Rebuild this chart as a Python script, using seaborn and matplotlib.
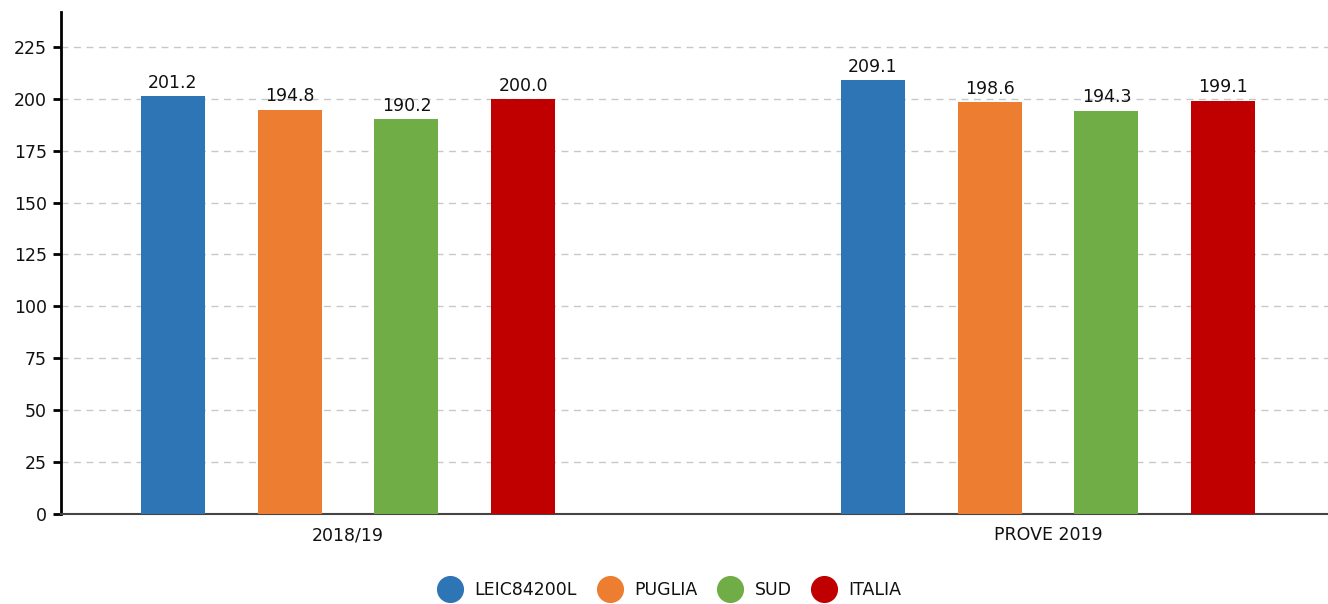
import matplotlib
matplotlib.use("Agg")
import matplotlib.pyplot as plt
import seaborn as sns
import pandas as pd
from matplotlib.lines import Line2D

categories = ["2018/19", "PROVE 2019"]
series = ["LEIC84200L", "PUGLIA", "SUD", "ITALIA"]
values_2018 = [201.2, 194.8, 190.2, 200.0]
values_2019 = [209.1, 198.6, 194.3, 199.1]
colors = ["#2E75B6", "#ED7D31", "#70AD47", "#C00000"]
yticks = [0, 25, 50, 75, 100, 125, 150, 175, 200, 225]

rows = []
for cat, vals in zip(categories, [values_2018, values_2019]):
    for s, v in zip(series, vals):
        rows.append({"cat": cat, "series": s, "value": v})
df = pd.DataFrame(rows)

sns.set_theme(style="white")
plt.rcParams["font.family"] = ["DejaVu Sans"]
plt.rcParams["text.color"] = "#111111"

fig = plt.figure(figsize=(13.28, 6.04), dpi=100)
ax = fig.add_axes([61/1328, 90/604, 1 - 61/1328, (514-12)/604])

sns.barplot(data=df, x="cat", y="value", hue="series", order=categories,
            hue_order=series, palette=colors, width=0.668, gap=0.453,
            saturation=1, ax=ax, legend=False, zorder=3, linewidth=0)

for cont in ax.containers:
    ax.bar_label(cont, fmt="%.1f", padding=3, fontsize=12.5, color="#111111")

ax.set_xlim(-0.41, 1.4)
ax.set_ylim(0, 241.8)
ax.set_yticks(yticks)
ax.yaxis.grid(True, linestyle=(0, (5, 4)), color="#c8c8c8", linewidth=1, zorder=0)
ax.set_axisbelow(True)
ax.set_xlabel("")
ax.set_ylabel("")
for s in ["top", "right"]:
    ax.spines[s].set_visible(False)
ax.spines["left"].set_color("black")
ax.spines["left"].set_linewidth(2)
ax.spines["bottom"].set_color("#444444")
ax.spines["bottom"].set_linewidth(1.5)
ax.tick_params(axis="y", which="both", left=True, length=6, width=2, color="black",
               labelsize=12.5, labelcolor="#111111", pad=4)
ax.tick_params(axis="x", bottom=False, labelsize=12.5, labelcolor="#111111", pad=3)

handles = [Line2D([], [], marker="o", linestyle="none", markersize=18.5,
                  markerfacecolor=c, markeredgecolor=c) for c in colors]
leg = fig.legend(handles, series, loc="center", bbox_to_anchor=(0.504, 0.023),
                 ncol=4, frameon=False, fontsize=12.5, handletextpad=0.65,
                 columnspacing=1.15, handlelength=1.5)
for t in leg.get_texts():
    t.set_color("#111111")

fig.savefig("out.png", dpi=100)
